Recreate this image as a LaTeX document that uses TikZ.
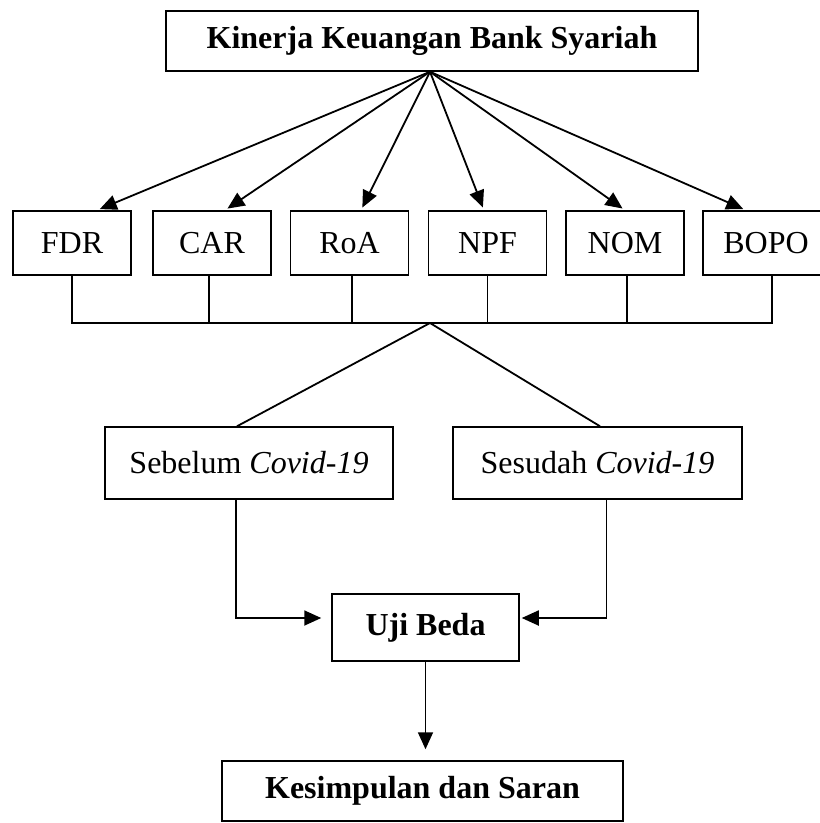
\documentclass[tikz,border=0pt]{standalone}
\usepackage{fontspec}
\setmainfont{Liberation Serif}
\usetikzlibrary{arrows.meta}
\tikzset{
  box/.style={draw, line width=1.5pt, inner sep=0pt, minimum width=118pt, minimum height=64pt, font=\fontsize{32}{38}\selectfont},
  boldbox/.style={box, font=\fontsize{32}{38}\selectfont\bfseries},
  line/.style={line width=1.8pt},
  arr/.style={line width=1.8pt, -{Triangle[length=17pt,width=15pt]}}
}
\begin{document}
\begin{tikzpicture}[x=1pt,y=1pt]
\useasboundingbox (0,0) rectangle (820,-823);
\node[boldbox, minimum width=532pt, minimum height=60pt] (kinerja) at (432,-41) {Kinerja Keuangan Bank Syariah};
\node[box] (fdr) at (72,-243) {FDR};
\node[box] (car) at (212,-243) {CAR};
\node[box] (roa) at (349.5,-243) {RoA};
\node[box] (npf) at (487.5,-243) {NPF};
\node[box] (nom) at (625,-243) {NOM};
\node[box, minimum width=126pt] (bopo) at (766,-243) {BOPO};
\node[box, minimum width=288pt, minimum height=72pt] (sebelum) at (249,-463) {Sebelum \textit{Covid-19}};
\node[box, minimum width=289pt, minimum height=72pt] (sesudah) at (597.5,-463) {Sesudah \textit{Covid-19}};
\node[boldbox, minimum width=187pt, minimum height=67pt] (ujibeda) at (425.5,-627.5) {Uji Beda};
\node[boldbox, minimum width=401pt, minimum height=60pt] (kesimpulan) at (422.5,-791) {Kesimpulan dan Saran};
\coordinate (join) at (430,-323);

\draw[arr, shorten >=3pt] ([xshift=-2pt]kinerja.south) -- ([xshift=25pt]fdr.north);
\draw[arr, shorten >=3pt] ([xshift=-2pt]kinerja.south) -- ([xshift=13pt]car.north);
\draw[arr, shorten >=3pt] ([xshift=-2pt]kinerja.south) -- ([xshift=11.5pt]roa.north);
\draw[arr, shorten >=3pt] ([xshift=-2pt]kinerja.south) -- ([xshift=-3.5pt]npf.north);
\draw[arr, shorten >=3pt] ([xshift=-2pt]kinerja.south) -- (nom.north);
\draw[arr, shorten >=3pt] ([xshift=-2pt]kinerja.south) -- ([xshift=-20pt]bopo.north);

\draw[line] (fdr.south) |- (join) -| ([xshift=6pt]bopo.south);
\draw[line] ([xshift=-3pt]car.south) -- ([xshift=-3pt]car.south |- join);
\draw[line] ([xshift=2.5pt]roa.south) -- ([xshift=2.5pt]roa.south |- join);
\draw[line] (npf.south) -- (npf.south |- join);
\draw[line] ([xshift=2pt]nom.south) -- ([xshift=2pt]nom.south |- join);
\draw[line] (join) -- ([xshift=-12pt]sebelum.north);
\draw[line] (join) -- ([xshift=2.5pt]sesudah.north);

\draw[arr] ([xshift=-13pt]sebelum.south) |- ([xshift=-10pt,yshift=9.5pt]ujibeda.west);
\draw[arr] ([xshift=9pt]sesudah.south) |- ([xshift=2pt,yshift=9.5pt]ujibeda.east);
\draw[arr] (ujibeda.south) -- ([yshift=11pt]ujibeda.south |- kesimpulan.north);
\end{tikzpicture}
\end{document}
